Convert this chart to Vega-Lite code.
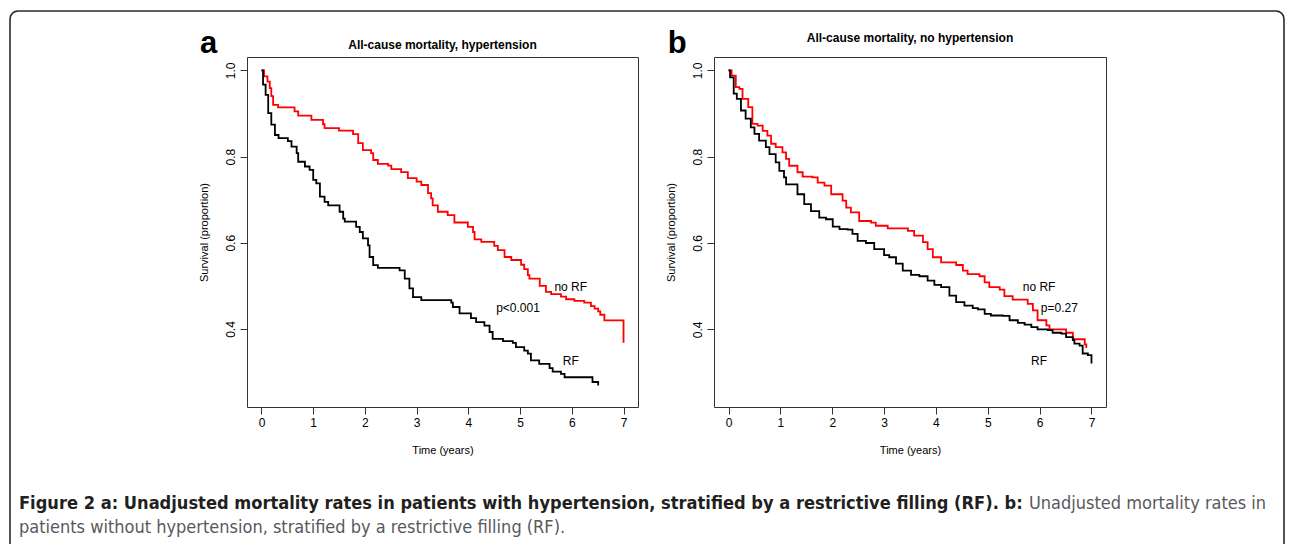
{
  "$schema": "https://vega.github.io/schema/vega-lite/v6.json",
  "padding": {"left": 6, "top": 7, "right": 0, "bottom": 0},
  "background": "white",
  "config": {
    "font": "Liberation Sans",
    "view": {"stroke": "#333", "strokeWidth": 1},
    "axis": {"grid": false, "domain": false, "tickColor": "#333", "tickWidth": 1, "tickSize": 7, "labelColor": "#000", "labelFontSize": 12, "titleColor": "#000", "titleFontSize": 11, "titleFontWeight": "normal", "labelFlush": false}
  },
  "datasets": {
    "hyp": [
      {"group": "no RF", "t": 0, "s": 1.0}, {"group": "no RF", "t": 0.05, "s": 0.986}, {"group": "no RF", "t": 0.116, "s": 0.974}, {"group": "no RF", "t": 0.16, "s": 0.959}, {"group": "no RF", "t": 0.19, "s": 0.94}, {"group": "no RF", "t": 0.225, "s": 0.92}, {"group": "no RF", "t": 0.32, "s": 0.914}, {"group": "no RF", "t": 0.64, "s": 0.905}, {"group": "no RF", "t": 0.71, "s": 0.895}, {"group": "no RF", "t": 0.965, "s": 0.885}, {"group": "no RF", "t": 1.19, "s": 0.875}, {"group": "no RF", "t": 1.22, "s": 0.866}, {"group": "no RF", "t": 1.5, "s": 0.86}, {"group": "no RF", "t": 1.77, "s": 0.852}, {"group": "no RF", "t": 1.87, "s": 0.831}, {"group": "no RF", "t": 1.96, "s": 0.815}, {"group": "no RF", "t": 2.12, "s": 0.808}, {"group": "no RF", "t": 2.16, "s": 0.792}, {"group": "no RF", "t": 2.25, "s": 0.783}, {"group": "no RF", "t": 2.45, "s": 0.779}, {"group": "no RF", "t": 2.51, "s": 0.771}, {"group": "no RF", "t": 2.7, "s": 0.764}, {"group": "no RF", "t": 2.83, "s": 0.75}, {"group": "no RF", "t": 3.0, "s": 0.742}, {"group": "no RF", "t": 3.09, "s": 0.734}, {"group": "no RF", "t": 3.22, "s": 0.715}, {"group": "no RF", "t": 3.28, "s": 0.703}, {"group": "no RF", "t": 3.31, "s": 0.687}, {"group": "no RF", "t": 3.41, "s": 0.672}, {"group": "no RF", "t": 3.6, "s": 0.664}, {"group": "no RF", "t": 3.73, "s": 0.647}, {"group": "no RF", "t": 3.99, "s": 0.637}, {"group": "no RF", "t": 4.09, "s": 0.625}, {"group": "no RF", "t": 4.12, "s": 0.608}, {"group": "no RF", "t": 4.25, "s": 0.602}, {"group": "no RF", "t": 4.5, "s": 0.593}, {"group": "no RF", "t": 4.57, "s": 0.583}, {"group": "no RF", "t": 4.7, "s": 0.567}, {"group": "no RF", "t": 4.83, "s": 0.56}, {"group": "no RF", "t": 5.02, "s": 0.549}, {"group": "no RF", "t": 5.08, "s": 0.539}, {"group": "no RF", "t": 5.15, "s": 0.525}, {"group": "no RF", "t": 5.18, "s": 0.517}, {"group": "no RF", "t": 5.38, "s": 0.5}, {"group": "no RF", "t": 5.5, "s": 0.486}, {"group": "no RF", "t": 5.6, "s": 0.481}, {"group": "no RF", "t": 5.79, "s": 0.475}, {"group": "no RF", "t": 5.89, "s": 0.469}, {"group": "no RF", "t": 6.05, "s": 0.465}, {"group": "no RF", "t": 6.24, "s": 0.461}, {"group": "no RF", "t": 6.37, "s": 0.453}, {"group": "no RF", "t": 6.44, "s": 0.447}, {"group": "no RF", "t": 6.51, "s": 0.441}, {"group": "no RF", "t": 6.55, "s": 0.433}, {"group": "no RF", "t": 6.63, "s": 0.42}, {"group": "no RF", "t": 7.0, "s": 0.368},
      {"group": "RF", "t": 0, "s": 1.0}, {"group": "RF", "t": 0.03, "s": 0.967}, {"group": "RF", "t": 0.08, "s": 0.943}, {"group": "RF", "t": 0.13, "s": 0.901}, {"group": "RF", "t": 0.19, "s": 0.874}, {"group": "RF", "t": 0.26, "s": 0.85}, {"group": "RF", "t": 0.33, "s": 0.843}, {"group": "RF", "t": 0.51, "s": 0.836}, {"group": "RF", "t": 0.58, "s": 0.823}, {"group": "RF", "t": 0.68, "s": 0.808}, {"group": "RF", "t": 0.71, "s": 0.788}, {"group": "RF", "t": 0.84, "s": 0.777}, {"group": "RF", "t": 0.93, "s": 0.769}, {"group": "RF", "t": 1.0, "s": 0.746}, {"group": "RF", "t": 1.06, "s": 0.738}, {"group": "RF", "t": 1.13, "s": 0.707}, {"group": "RF", "t": 1.22, "s": 0.695}, {"group": "RF", "t": 1.29, "s": 0.687}, {"group": "RF", "t": 1.51, "s": 0.672}, {"group": "RF", "t": 1.58, "s": 0.656}, {"group": "RF", "t": 1.61, "s": 0.649}, {"group": "RF", "t": 1.83, "s": 0.637}, {"group": "RF", "t": 1.9, "s": 0.625}, {"group": "RF", "t": 1.96, "s": 0.61}, {"group": "RF", "t": 2.06, "s": 0.594}, {"group": "RF", "t": 2.09, "s": 0.567}, {"group": "RF", "t": 2.16, "s": 0.548}, {"group": "RF", "t": 2.25, "s": 0.542}, {"group": "RF", "t": 2.67, "s": 0.536}, {"group": "RF", "t": 2.77, "s": 0.517}, {"group": "RF", "t": 2.86, "s": 0.494}, {"group": "RF", "t": 2.93, "s": 0.474}, {"group": "RF", "t": 3.09, "s": 0.467}, {"group": "RF", "t": 3.67, "s": 0.461}, {"group": "RF", "t": 3.7, "s": 0.451}, {"group": "RF", "t": 3.83, "s": 0.436}, {"group": "RF", "t": 4.05, "s": 0.425}, {"group": "RF", "t": 4.15, "s": 0.416}, {"group": "RF", "t": 4.31, "s": 0.408}, {"group": "RF", "t": 4.41, "s": 0.393}, {"group": "RF", "t": 4.47, "s": 0.377}, {"group": "RF", "t": 4.67, "s": 0.372}, {"group": "RF", "t": 4.86, "s": 0.368}, {"group": "RF", "t": 4.92, "s": 0.358}, {"group": "RF", "t": 5.08, "s": 0.35}, {"group": "RF", "t": 5.15, "s": 0.343}, {"group": "RF", "t": 5.21, "s": 0.327}, {"group": "RF", "t": 5.37, "s": 0.319}, {"group": "RF", "t": 5.57, "s": 0.309}, {"group": "RF", "t": 5.63, "s": 0.301}, {"group": "RF", "t": 5.79, "s": 0.296}, {"group": "RF", "t": 5.86, "s": 0.288}, {"group": "RF", "t": 6.37, "s": 0.288}, {"group": "RF", "t": 6.4, "s": 0.277}, {"group": "RF", "t": 6.51, "s": 0.269}
    ],
    "nohyp": [
      {"group": "no RF", "t": 0, "s": 1.0}, {"group": "no RF", "t": 0.06, "s": 0.988}, {"group": "no RF", "t": 0.14, "s": 0.961}, {"group": "no RF", "t": 0.21, "s": 0.957}, {"group": "no RF", "t": 0.27, "s": 0.934}, {"group": "no RF", "t": 0.38, "s": 0.915}, {"group": "no RF", "t": 0.46, "s": 0.876}, {"group": "no RF", "t": 0.56, "s": 0.872}, {"group": "no RF", "t": 0.66, "s": 0.86}, {"group": "no RF", "t": 0.75, "s": 0.849}, {"group": "no RF", "t": 0.82, "s": 0.83}, {"group": "no RF", "t": 0.91, "s": 0.822}, {"group": "no RF", "t": 1.04, "s": 0.81}, {"group": "no RF", "t": 1.11, "s": 0.795}, {"group": "no RF", "t": 1.17, "s": 0.779}, {"group": "no RF", "t": 1.33, "s": 0.764}, {"group": "no RF", "t": 1.43, "s": 0.754}, {"group": "no RF", "t": 1.62, "s": 0.752}, {"group": "no RF", "t": 1.72, "s": 0.74}, {"group": "no RF", "t": 1.85, "s": 0.733}, {"group": "no RF", "t": 1.98, "s": 0.713}, {"group": "no RF", "t": 2.2, "s": 0.698}, {"group": "no RF", "t": 2.27, "s": 0.682}, {"group": "no RF", "t": 2.36, "s": 0.671}, {"group": "no RF", "t": 2.52, "s": 0.651}, {"group": "no RF", "t": 2.75, "s": 0.647}, {"group": "no RF", "t": 2.84, "s": 0.64}, {"group": "no RF", "t": 3.07, "s": 0.634}, {"group": "no RF", "t": 3.33, "s": 0.634}, {"group": "no RF", "t": 3.46, "s": 0.628}, {"group": "no RF", "t": 3.58, "s": 0.617}, {"group": "no RF", "t": 3.75, "s": 0.602}, {"group": "no RF", "t": 3.84, "s": 0.586}, {"group": "no RF", "t": 3.94, "s": 0.567}, {"group": "no RF", "t": 4.1, "s": 0.555}, {"group": "no RF", "t": 4.39, "s": 0.549}, {"group": "no RF", "t": 4.52, "s": 0.536}, {"group": "no RF", "t": 4.61, "s": 0.528}, {"group": "no RF", "t": 4.84, "s": 0.523}, {"group": "no RF", "t": 4.94, "s": 0.509}, {"group": "no RF", "t": 5.03, "s": 0.498}, {"group": "no RF", "t": 5.23, "s": 0.492}, {"group": "no RF", "t": 5.32, "s": 0.477}, {"group": "no RF", "t": 5.48, "s": 0.469}, {"group": "no RF", "t": 5.68, "s": 0.469}, {"group": "no RF", "t": 5.77, "s": 0.459}, {"group": "no RF", "t": 5.87, "s": 0.444}, {"group": "no RF", "t": 5.96, "s": 0.421}, {"group": "no RF", "t": 6.13, "s": 0.409}, {"group": "no RF", "t": 6.19, "s": 0.4}, {"group": "no RF", "t": 6.42, "s": 0.4}, {"group": "no RF", "t": 6.51, "s": 0.392}, {"group": "no RF", "t": 6.64, "s": 0.377}, {"group": "no RF", "t": 6.83, "s": 0.377}, {"group": "no RF", "t": 6.87, "s": 0.365}, {"group": "no RF", "t": 6.9, "s": 0.357},
      {"group": "RF", "t": 0, "s": 1.0}, {"group": "RF", "t": 0.03, "s": 0.984}, {"group": "RF", "t": 0.1, "s": 0.946}, {"group": "RF", "t": 0.16, "s": 0.934}, {"group": "RF", "t": 0.24, "s": 0.907}, {"group": "RF", "t": 0.33, "s": 0.888}, {"group": "RF", "t": 0.43, "s": 0.868}, {"group": "RF", "t": 0.5, "s": 0.853}, {"group": "RF", "t": 0.59, "s": 0.837}, {"group": "RF", "t": 0.72, "s": 0.822}, {"group": "RF", "t": 0.79, "s": 0.806}, {"group": "RF", "t": 0.91, "s": 0.787}, {"group": "RF", "t": 0.98, "s": 0.767}, {"group": "RF", "t": 1.07, "s": 0.752}, {"group": "RF", "t": 1.11, "s": 0.736}, {"group": "RF", "t": 1.2, "s": 0.736}, {"group": "RF", "t": 1.33, "s": 0.713}, {"group": "RF", "t": 1.46, "s": 0.69}, {"group": "RF", "t": 1.59, "s": 0.674}, {"group": "RF", "t": 1.75, "s": 0.659}, {"group": "RF", "t": 1.88, "s": 0.655}, {"group": "RF", "t": 2.01, "s": 0.638}, {"group": "RF", "t": 2.14, "s": 0.632}, {"group": "RF", "t": 2.3, "s": 0.631}, {"group": "RF", "t": 2.39, "s": 0.621}, {"group": "RF", "t": 2.49, "s": 0.605}, {"group": "RF", "t": 2.65, "s": 0.6}, {"group": "RF", "t": 2.81, "s": 0.586}, {"group": "RF", "t": 3.0, "s": 0.572}, {"group": "RF", "t": 3.1, "s": 0.567}, {"group": "RF", "t": 3.23, "s": 0.552}, {"group": "RF", "t": 3.36, "s": 0.536}, {"group": "RF", "t": 3.52, "s": 0.526}, {"group": "RF", "t": 3.68, "s": 0.523}, {"group": "RF", "t": 3.84, "s": 0.513}, {"group": "RF", "t": 3.97, "s": 0.503}, {"group": "RF", "t": 4.1, "s": 0.498}, {"group": "RF", "t": 4.26, "s": 0.478}, {"group": "RF", "t": 4.39, "s": 0.463}, {"group": "RF", "t": 4.55, "s": 0.455}, {"group": "RF", "t": 4.71, "s": 0.449}, {"group": "RF", "t": 4.81, "s": 0.446}, {"group": "RF", "t": 4.94, "s": 0.436}, {"group": "RF", "t": 5.06, "s": 0.432}, {"group": "RF", "t": 5.29, "s": 0.431}, {"group": "RF", "t": 5.42, "s": 0.421}, {"group": "RF", "t": 5.58, "s": 0.415}, {"group": "RF", "t": 5.71, "s": 0.411}, {"group": "RF", "t": 5.84, "s": 0.405}, {"group": "RF", "t": 5.96, "s": 0.4}, {"group": "RF", "t": 6.16, "s": 0.398}, {"group": "RF", "t": 6.25, "s": 0.392}, {"group": "RF", "t": 6.42, "s": 0.39}, {"group": "RF", "t": 6.51, "s": 0.382}, {"group": "RF", "t": 6.64, "s": 0.375}, {"group": "RF", "t": 6.67, "s": 0.367}, {"group": "RF", "t": 6.77, "s": 0.362}, {"group": "RF", "t": 6.83, "s": 0.344}, {"group": "RF", "t": 6.93, "s": 0.34}, {"group": "RF", "t": 7.0, "s": 0.321}
    ],
    "labA": [{"t": 5.98, "s": 0.498, "label": "no RF"}, {"t": 4.96, "s": 0.4495, "label": "p<0.001"}, {"t": 5.98, "s": 0.326, "label": "RF"}],
    "labB": [{"t": 5.99, "s": 0.498, "label": "no RF"}, {"t": 6.38, "s": 0.449, "label": "p=0.27"}, {"t": 5.99, "s": 0.326, "label": "RF"}],
    "letA": [{"t": -1.02, "s": 1.04, "label": "a"}],
    "letB": [{"t": -0.99, "s": 1.04, "label": "b"}],
    "frame": [
      {"o": 1, "fx": 0, "fy": 1.035}, {"o": 2, "fx": 0, "fy": -8.1754}, {"o": 3, "fx": 0.00048, "fy": -8.2292}, {"o": 4, "fx": 0.00184, "fy": -8.2747}, {"o": 5, "fx": 0.00387, "fy": -8.3051}, {"o": 6, "fx": 0.00628, "fy": -8.3158},
      {"o": 7, "fx": 0.99372, "fy": -8.3158}, {"o": 8, "fx": 0.99613, "fy": -8.3051}, {"o": 9, "fx": 0.99816, "fy": -8.2747}, {"o": 10, "fx": 0.99952, "fy": -8.2292}, {"o": 11, "fx": 1, "fy": -8.1754}, {"o": 12, "fx": 1, "fy": 1.035}
    ],
    "capBold": [{"cx": 0.00706, "cy": 0.421, "txt": "Figure 2 a: Unadjusted mortality rates in patients with hypertension, stratified by a restrictive filling (RF). b:"}],
    "capNormal": [{"cx": 0.7998, "cy": 0.421, "txt": "Unadjusted mortality rates in"}, {"cx": 0.00706, "cy": 0.842, "txt": "patients without hypertension, stratified by a restrictive filling (RF)."}]
  },
  "bounds": "flush",
  "columns": 3,
  "spacing": {"row": 78, "column": 76},
  "concat": [
    {
      "width": 161, "height": 350,
      "view": {"stroke": null},
      "data": {"values": [{"k": 1}]},
      "mark": {"type": "text", "text": ""},
      "encoding": {}
    },
    {
      "width": 391, "height": 350,
      "title": {"text": "All-cause mortality, hypertension", "fontSize": 12, "fontWeight": "bold", "anchor": "middle", "frame": "group", "offset": -24, "color": "#000"},
      "layer": [
        {
          "data": {"name": "hyp"},
          "mark": {"type": "line", "interpolate": "step-after", "strokeWidth": 1.8},
          "encoding": {
            "x": {"field": "t", "type": "quantitative", "scale": {"domain": [-0.28, 7.28], "nice": false, "zero": false}, "axis": {"values": [0, 1, 2, 3, 4, 5, 6, 7], "title": "Time (years)", "labelPadding": 3, "titlePadding": 16}},
            "y": {"field": "s", "type": "quantitative", "scale": {"domain": [0.219, 1.031], "nice": false, "zero": false}, "axis": {"values": [0.4, 0.6, 0.8, 1.0], "format": ".1f", "title": "Survival (proportion)", "labelAngle": 270, "labelAlign": "center", "labelBaseline": "bottom", "labelPadding": 3, "titlePadding": 15}},
            "color": {"field": "group", "type": "nominal", "scale": {"domain": ["no RF", "RF"], "range": ["#ff0000", "#000000"]}, "legend": null}
          }
        },
        {
          "data": {"name": "labA"},
          "mark": {"type": "text", "fontSize": 12, "align": "center", "baseline": "middle", "color": "#000"},
          "encoding": {"x": {"field": "t", "type": "quantitative"}, "y": {"field": "s", "type": "quantitative"}, "text": {"field": "label"}}
        },
        {
          "data": {"name": "letA"},
          "mark": {"type": "text", "fontSize": 31, "fontWeight": "bold", "align": "center", "baseline": "alphabetic", "color": "#000"},
          "encoding": {"x": {"field": "t", "type": "quantitative"}, "y": {"field": "s", "type": "quantitative"}, "text": {"field": "label"}}
        }
      ]
    },
    {
      "width": 392, "height": 350,
      "title": {"text": "All-cause mortality, no hypertension", "fontSize": 12, "fontWeight": "bold", "anchor": "middle", "frame": "group", "offset": -17, "color": "#000"},
      "layer": [
        {
          "data": {"name": "nohyp"},
          "mark": {"type": "line", "interpolate": "step-after", "strokeWidth": 1.8},
          "encoding": {
            "x": {"field": "t", "type": "quantitative", "scale": {"domain": [-0.28, 7.28], "nice": false, "zero": false}, "axis": {"values": [0, 1, 2, 3, 4, 5, 6, 7], "title": "Time (years)", "labelPadding": 3, "titlePadding": 16}},
            "y": {"field": "s", "type": "quantitative", "scale": {"domain": [0.22, 1.031], "nice": false, "zero": false}, "axis": {"values": [0.4, 0.6, 0.8, 1.0], "format": ".1f", "title": "Survival (proportion)", "labelAngle": 270, "labelAlign": "center", "labelBaseline": "bottom", "labelPadding": 3, "titlePadding": 15}},
            "color": {"field": "group", "type": "nominal", "scale": {"domain": ["no RF", "RF"], "range": ["#ff0000", "#000000"]}, "legend": null}
          }
        },
        {
          "data": {"name": "labB"},
          "mark": {"type": "text", "fontSize": 12, "align": "center", "baseline": "middle", "color": "#000"},
          "encoding": {"x": {"field": "t", "type": "quantitative"}, "y": {"field": "s", "type": "quantitative"}, "text": {"field": "label"}}
        },
        {
          "data": {"name": "letB"},
          "mark": {"type": "text", "fontSize": 31, "fontWeight": "bold", "align": "center", "baseline": "alphabetic", "color": "#000"},
          "encoding": {"x": {"field": "t", "type": "quantitative"}, "y": {"field": "s", "type": "quantitative"}, "text": {"field": "label"}}
        }
      ]
    },
    {
      "width": 161, "height": 57,
      "view": {"stroke": null},
      "layer": [
        {
          "data": {"name": "frame"},
          "mark": {"type": "line", "stroke": "#2b2b2b", "strokeWidth": 1.6, "interpolate": "linear"},
          "encoding": {
            "x": {"field": "fx", "type": "quantitative", "scale": {"domain": [0, 0.126374], "nice": false, "zero": false}, "axis": null},
            "y": {"field": "fy", "type": "quantitative", "scale": {"domain": [0, 1], "reverse": true, "nice": false, "zero": false}, "axis": null},
            "order": {"field": "o", "type": "quantitative"}
          }
        },
        {
          "data": {"name": "capBold"},
          "mark": {"type": "text", "font": "DejaVu Sans Condensed", "fontSize": 18.1, "fontWeight": "bold", "align": "left", "baseline": "alphabetic", "color": "#231f20"},
          "encoding": {
            "x": {"field": "cx", "type": "quantitative", "scale": {"domain": [0, 0.126374], "nice": false, "zero": false}, "axis": null},
            "y": {"field": "cy", "type": "quantitative", "scale": {"domain": [0, 1], "reverse": true, "nice": false, "zero": false}, "axis": null},
            "text": {"field": "txt"}
          }
        },
        {
          "data": {"name": "capNormal"},
          "mark": {"type": "text", "font": "DejaVu Sans Condensed", "fontSize": 18, "align": "left", "baseline": "alphabetic", "color": "#58595b"},
          "encoding": {
            "x": {"field": "cx", "type": "quantitative", "scale": {"domain": [0, 0.126374], "nice": false, "zero": false}, "axis": null},
            "y": {"field": "cy", "type": "quantitative", "scale": {"domain": [0, 1], "reverse": true, "nice": false, "zero": false}, "axis": null},
            "text": {"field": "txt"}
          }
        }
      ]
    }
  ]
}
